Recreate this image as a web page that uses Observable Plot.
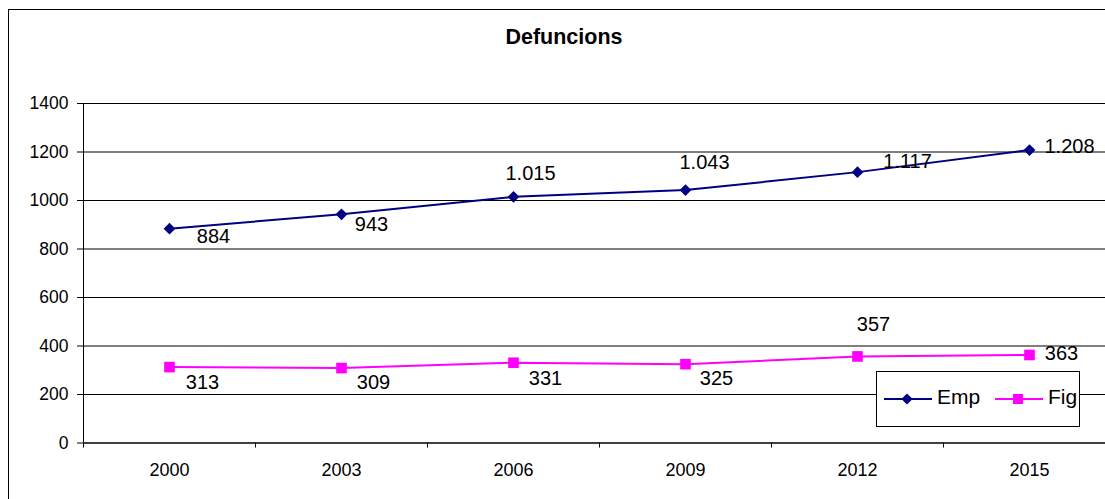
<!DOCTYPE html>
<html><head><meta charset="utf-8">
<script src="https://cdn.jsdelivr.net/npm/d3@7"></script>
<script src="https://cdn.jsdelivr.net/npm/@observablehq/plot@0.6"></script>
<style>
body{margin:0;overflow:hidden;background:#fff;font-family:"Liberation Sans",Arial,sans-serif}
#chart{position:relative;width:1128px}
#title{height:50px;box-sizing:border-box;padding-top:25px;line-height:24px;font-size:21.5px;font-weight:bold;text-align:center;color:#000}
#frame{position:absolute;left:8px;top:9px;width:1112px;height:600px;border:1px solid #000;pointer-events:none;box-sizing:border-box}
#legend{position:absolute;left:876px;top:371px;width:204px;height:56px;box-sizing:border-box;border:1px solid #000;background:#fff}
#legend svg{display:block}
</style></head><body>
<div id="chart"><div id="title">Defuncions</div></div>
<div id="frame"></div>
<script>
// ---- data ----
const years = ["2000", "2003", "2006", "2009", "2012", "2015"];
const emp = [884, 943, 1015, 1043, 1117, 1208];
const fig = [313, 309, 331, 325, 357, 363];
const seriesNames = ["Emp", "Fig"];
const yTicks = [0, 200, 400, 600, 800, 1000, 1200, 1400];

// ---- layout (label nudges in px, as placed in the reference) ----
const nudgeEmp = [[44, 8], [30, 10], [17, -23], [19, -27], [50, -11], [40, -3]];
const nudgeFig = [[33, 15.5], [32, 14.5], [32, 15.5], [31, 14], [16, -31.5], [32, -1]];
const colors = {Emp: "#000080", Fig: "#ff00ff"};

const fmt = d3.formatLocale({decimal: ",", thousands: ".", grouping: [3], currency: ["", "€"]}).format(",d");
const empRows = years.map((y, i) => ({i, year: y, value: emp[i]}));
const figRows = years.map((y, i) => ({i, year: y, value: fig[i]}));
const boundaries = d3.range(years.length + 1).map(k => k - 0.5);

const labelMarks = (rows, nudges) => rows.map((d, k) =>
  Plot.text([d], {x: "i", y: "value", text: r => fmt(r.value), dx: nudges[k][0], dy: nudges[k][1],
    fontSize: 20, fill: "#000", textAnchor: "middle", lineAnchor: "middle"}));

const chart = Plot.plot({
  width: 1128, height: 449,
  marginTop: 53, marginBottom: 56.5, marginLeft: 83, marginRight: 13,
  style: {fontFamily: "'Liberation Sans', Arial, sans-serif", color: "#000", background: "transparent"},
  x: {type: "linear", domain: [-0.5, years.length - 0.5]},
  y: {domain: [0, 1400]},
  marks: [
    Plot.gridY(yTicks, {stroke: "#000", strokeOpacity: 1, strokeWidth: 1}),
    Plot.ruleY([0], {stroke: "#000"}),
    Plot.ruleX([-0.5], {stroke: "#000"}),
    Plot.axisY(yTicks, {tickSize: 6, tickPadding: 9, fontSize: 17.5, label: null, stroke: "#000", tickFormat: d => String(d)}),
    Plot.axisX(boundaries, {tickSize: 5, tickFormat: () => "", label: null, stroke: "#000"}),
    Plot.axisX(d3.range(years.length), {tickSize: 0, tickPadding: 20, fontSize: 18, tickFormat: i => years[i], label: null}),
    Plot.line(empRows, {x: "i", y: "value", stroke: colors.Emp, strokeWidth: 2}),
    Plot.line(figRows, {x: "i", y: "value", stroke: colors.Fig, strokeWidth: 2}),
    Plot.dot(empRows, {x: "i", y: "value", symbol: "diamond2", r: 5.3, fill: colors.Emp, stroke: "none"}),
    Plot.dot(figRows, {x: "i", y: "value", symbol: "square", r: 6, fill: colors.Fig, stroke: "none"}),
    ...labelMarks(empRows, nudgeEmp),
    ...labelMarks(figRows, nudgeFig)
  ]
});
document.getElementById("chart").appendChild(chart);

// ---- legend ----
const legend = d3.select("#chart").append("div").attr("id", "legend");
const lsvg = legend.append("svg").attr("width", 202).attr("height", 54);
const items = [
  {name: seriesNames[0], x0: 7, sym: d3.symbolDiamond2, size: 80},
  {name: seriesNames[1], x0: 118, sym: d3.symbolSquare, size: 100}
];
items.forEach(it => {
  const g = lsvg.append("g");
  g.append("line").attr("x1", it.x0).attr("x2", it.x0 + 48).attr("y1", 27).attr("y2", 27)
    .attr("stroke", colors[it.name]).attr("stroke-width", 2);
  g.append("path").attr("d", d3.symbol(it.sym, it.size)()).attr("transform", `translate(${it.x0 + 23},27)`)
    .attr("fill", colors[it.name]);
  g.append("text").attr("x", it.x0 + 53).attr("y", 31.5).attr("font-size", 21)
    .attr("font-family", "'Liberation Sans', Arial, sans-serif").attr("fill", "#000").text(it.name);
});
</script>
</body></html>
